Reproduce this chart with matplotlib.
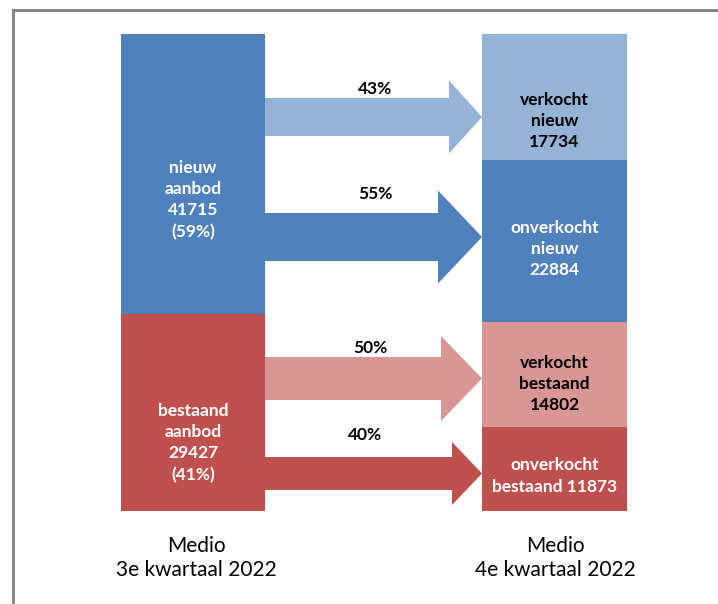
import matplotlib
matplotlib.use("Agg")
import matplotlib.pyplot as plt
from matplotlib.lines import Line2D

plt.rcParams['font.family'] = ['Lato', 'DejaVu Sans']

# data
left_names = ["nieuw\naanbod\n41715\n(59%)", "bestaand\naanbod\n29427\n(41%)"]
left_values = [41715, 29427]
right_names = ["verkocht\nnieuw\n17734", "onverkocht\nnieuw\n22884",
               "verkocht\nbestaand\n14802", "onverkocht\nbestaand 11873"]
right_values = [17734, 22884, 14802, 11873]
flow_labels = ["43%", "55%", "50%", "40%"]
period_labels = ["Medio\n3e kwartaal 2022", "Medio\n4e kwartaal 2022"]

left_colors = ["#4F81BD", "#C0504D"]
right_colors = ["#95B3D7", "#4F81BD", "#D99694", "#C0504D"]
right_text_colors = ["black", "white", "black", "white"]

W, H = 718, 604
fig = plt.figure(figsize=(W / 100, H / 100), dpi=100)

# bars area in pixels: x 121..627, y 34..511
ax = fig.add_axes([121 / W, (H - 511) / H, 506 / W, 477 / H])
ax.set_xlim(0, 506)
ax.set_ylim(1, 0)
ax.axis("off")

def py(p):
    # pixel y -> share coordinate
    return (p - 34) / 477.0

# arrows (drawn first so the bars sit on top)
arrow_cy = [117, 237, 378.5, 473.5]
shaft_hw = [19, 24, 21.5, 16.5]
head_hw = [36.5, 46.5, 42.5, 31.5]
head_len = [33, 44, 41, 30]
x0, x1 = 144, 361
for i in range(4):
    cy, sh, hh, hl = arrow_cy[i], shaft_hw[i], head_hw[i], head_len[i]
    xs = [x0, x1 - hl, x1 - hl, x1, x1 - hl, x1 - hl, x0]
    ys = [cy - sh, cy - sh, cy - hh, cy, cy + hh, cy + sh, cy + sh]
    ax.fill(xs, [py(v) for v in ys], color=right_colors[i], lw=0, zorder=1)

label_pos = [(254, 89), (254, 194), (249, 348), (244, 435)]
for lab, (lx, ly) in zip(flow_labels, label_pos):
    ax.text(lx, py(ly), lab, ha="center", va="center", fontsize=12.5,
            fontweight="bold", color="black")

# left stacked bar
bottom = 0
tot = sum(left_values)
for v, c in zip(left_values, left_colors):
    ax.bar(72, v / tot, bottom=bottom, width=144, color=c, lw=0, zorder=2)
    bottom += v / tot

left_text_y = [200, 443]
for name, ty in zip(left_names, left_text_y):
    ax.text(72, py(ty), name, ha="center", va="center", fontsize=12.5,
            fontweight="bold", color="white", linespacing=1.4)

# right stacked bar
bottom = 0
tot = sum(right_values)
for v, c in zip(right_values, right_colors):
    ax.bar(433.5, v / tot, bottom=bottom, width=145, color=c, lw=0, zorder=2)
    bottom += v / tot

right_text_y = [121, 249, 384, 476]
for name, ty, tc in zip(right_names, right_text_y, right_text_colors):
    ax.text(433.5, py(ty), name, ha="center", va="center", fontsize=12.5,
            fontweight="bold", color=tc, linespacing=1.4)

# period labels under the bars
fig.text(196 / W, 1 - 558 / H, period_labels[0], ha="center", va="center",
         fontsize=15, linespacing=1.3)
fig.text(555 / W, 1 - 558 / H, period_labels[1], ha="center", va="center",
         fontsize=15, linespacing=1.3)

# frame (only left and top edge visible)
fig.add_artist(Line2D([13 / W, 13 / W], [0, 1 - 10 / H], color="#808080", lw=2))
fig.add_artist(Line2D([13 / W, 1], [1 - 10 / H, 1 - 10 / H], color="#808080", lw=2))

fig.savefig("out.png", dpi=100)
